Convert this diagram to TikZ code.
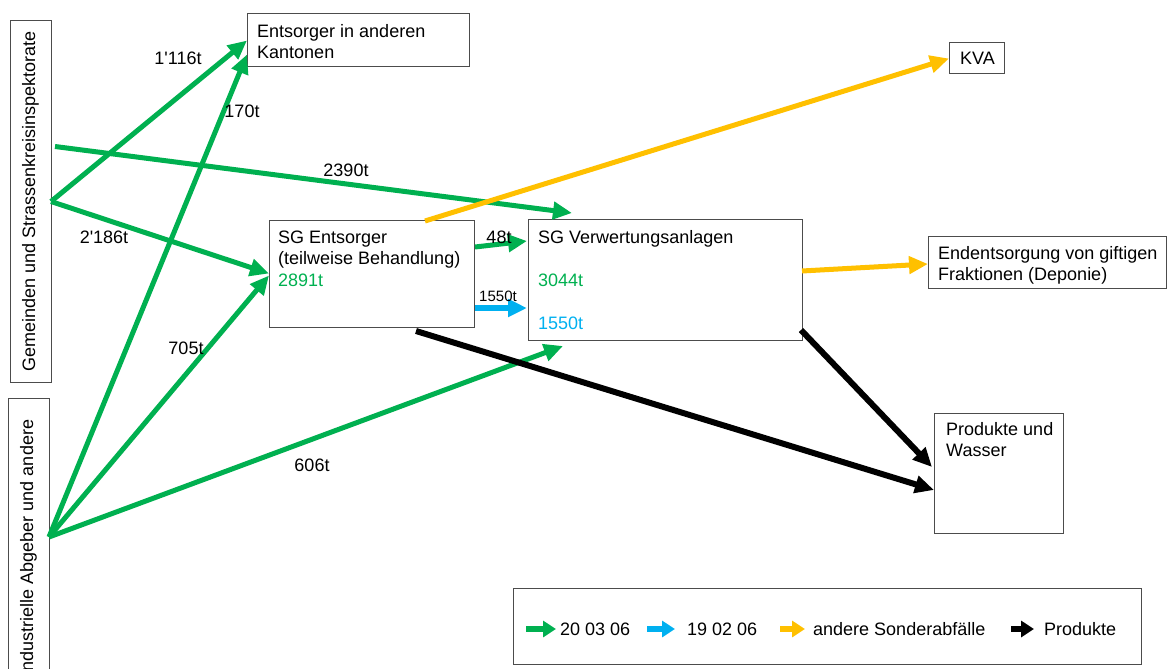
\documentclass[tikz,border=0pt]{standalone}
\usepackage{fontspec}
\setmainfont{Liberation Sans}
\usetikzlibrary{arrows.meta,positioning}

\definecolor{flowgreen}{HTML}{00B050}
\definecolor{flowblue}{HTML}{00B0F0}
\definecolor{flowyellow}{HTML}{FFC000}

\tikzset{
  box/.style={draw=black!70, line width=1pt, anchor=north west, inner sep=0pt, outer sep=0pt},
  boxtext/.style={anchor=north west, inner sep=0pt, align=left},
  qty/.style={inner sep=0pt},
  flow/.style={line width=5pt, -{Triangle[length=19pt,width=17pt]}},
  legarrow/.style={line width=6pt, -{Triangle[length=13pt,width=16pt]}},
}

\begin{document}
\begin{tikzpicture}[x=1pt, y=-1pt, font=\fontsize{18}{21.5}\selectfont]
\clip (0,0) rectangle (1167,669);

% Kaesten
\node[box, minimum width=41, minimum height=361] (gem) at (10,21) {};
\node[box, minimum width=41, minimum height=278] (ind) at (8,398) {};
\node[box, minimum width=222, minimum height=53] (ent) at (247,14) {};
\node[box, minimum width=55, minimum height=31] (kva) at (949,43) {};
\node[box, minimum width=205, minimum height=107] (sgE) at (269,220) {};
\node[box, minimum width=274, minimum height=121] (sgV) at (528,219) {};
\node[box, minimum width=238, minimum height=52] (endE) at (928,236) {};
\node[box, minimum width=129, minimum height=120] (prod) at (934,413) {};
\node[box, minimum width=628, minimum height=76] (leg) at (513,588) {};

% Beschriftungen
\node[rotate=90] (gemtxt) at (gem.center) {Gemeinden und Strassenkreisinspektorate};
\node[rotate=90] (indtxt) at ([shift={(0,11)}]ind.center) {Industrielle Abgeber und andere};
\node[boxtext] (enttxt) at ([shift={(10,8)}]ent.north west) {\strut Entsorger in anderen\\Kantonen};
\node[boxtext] (kvatxt) at ([shift={(11,6)}]kva.north west) {\strut KVA};
\node[boxtext] (sgEtxt) at ([shift={(9,8)}]sgE.north west)
  {\strut SG Entsorger\\(teilweise Behandlung)\\\textcolor{flowgreen}{2891t}};
\node[boxtext] (sgVtxt) at ([shift={(10,9)}]sgV.north west)
  {\strut SG Verwertungsanlagen\\[21.5pt]\textcolor{flowgreen}{3044t}\\[21.5pt]\textcolor{flowblue}{1550t}};
\node[boxtext] (endEtxt) at ([shift={(10,8)}]endE.north west) {\strut Endentsorgung von giftigen\\Fraktionen (Deponie)};
\node[boxtext] (prodtxt) at ([shift={(12,7)}]prod.north west) {\strut Produkte und\\Wasser};

% Fluesse
\coordinate (gemtop) at ([shift={(4,-55)}]gem.east);
\draw[flow, flowgreen] (gemtop) -- ([shift={(44,-6)}]sgV.north west);
\draw[flow, flowgreen] (gem.east) -- (ent.west);
\draw[flow, flowgreen] (ind.east) -- ([shift={(0,14)}]ent.west);
\draw[flow, flowgreen] (gem.east) -- (sgE.west);
\draw[flow, flowgreen] (ind.east) -- ([shift={(0,2)}]sgE.west);
\draw[flow, flowgreen] (ind.east) -- ([shift={(35,6)}]sgV.south west);
\draw[flow, flowgreen] ([shift={(1,-26.5)}]sgE.east) -- ([shift={(-1,-38.5)}]sgV.west);
\draw[flow, flowblue, line width=6pt] ([shift={(1,34.5)}]sgE.east) -- ([shift={(-1,28.5)}]sgV.west);
\draw[flow, flowyellow] ([shift={(156,1)}]sgE.north west) -- (kva.west);
\draw[flow, flowyellow] ([shift={(0,-8.5)}]sgV.east) -- ([shift={(0,2)}]endE.west);
\draw[flow, black, line width=6pt] ([shift={(147,4)}]sgE.south west) -- ([shift={(0,17)}]prod.west);
\draw[flow, black, line width=6pt] ([shift={(-1,-10)}]sgV.south east) -- ([shift={(-2,-6)}]prod.west);

% Mengen
\node[qty] (q1116) at (178,58) {1\textquotesingle116t};
\node[qty] (q170) at (242,111) {170t};
\node[qty] (q2390) at (346,170) {2390t};
\node[qty] (q2186) at (104,237) {2\textquotesingle186t};
\node[qty] (q705) at (186,348) {705t};
\node[qty] (q606) at (312,465) {606t};
\node[qty] (q48) at (499,237) {48t};
\node[qty, font=\fontsize{15}{18}\selectfont] (q1550) at (498,296) {1550t};

% Legende
\node[qty, anchor=west] (lg1) at (560,629) {20 03 06};
\node[qty, anchor=west] (lg2) at (687,629) {19 02 06};
\node[qty, anchor=west] (lg3) at (813,629) {andere Sonderabfälle};
\node[qty, anchor=west] (lg4) at (1044,629) {Produkte};
\draw[legarrow, flowgreen] ([shift={(-34,0)}]lg1.west) -- ([shift={(-4,0)}]lg1.west);
\draw[legarrow, flowblue] ([shift={(-40,0)}]lg2.west) -- ([shift={(-12,0)}]lg2.west);
\draw[legarrow, flowyellow] ([shift={(-33,0)}]lg3.west) -- ([shift={(-8,0)}]lg3.west);
\draw[legarrow, black] ([shift={(-33,0)}]lg4.west) -- ([shift={(-10,0)}]lg4.west);
\end{tikzpicture}
\end{document}
